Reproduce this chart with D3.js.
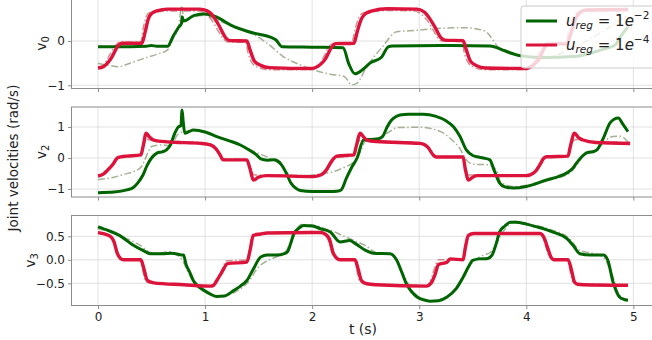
<!DOCTYPE html>
<html>
<head>
<meta charset="utf-8">
<script src="https://cdn.jsdelivr.net/npm/d3@7"></script>
<style>
  body { margin: 0; background: #fff; }
  svg { display: block; font-family: "DejaVu Sans", sans-serif; }
</style>
</head>
<body>
<div id="chart"></div>
<script>
// x ticks shared by all panels
var xTicks = [0, 1, 2, 3, 4, 5];

// ---- v0 ----
var v0GreenT = [0, 0.3, 0.45, 0.5, 0.55, 0.65, 0.7, 0.75, 0.78, 0.785, 0.8, 0.9, 1.0, 1.1, 1.24, 1.45, 1.61, 1.66, 1.72, 2.0, 2.29, 2.34, 2.40, 2.47, 2.54, 2.65, 2.71, 2.75, 3.2, 3.66, 3.8, 3.94, 4.13, 4.45, 4.7, 4.83, 4.88, 4.95];
var v0Green  = [-0.13, -0.13, -0.12, -0.1, -0.12, -0.12, 0.1, 0.3, 0.4, 0.55, 0.45, 0.58, 0.61, 0.55, 0.36, 0.18, 0.09, 0.03, -0.13, -0.14, -0.15, -0.5, -0.74, -0.65, -0.5, -0.36, -0.13, -0.11, -0.1, -0.11, -0.22, -0.33, -0.37, -0.35, -0.2, -0.09, 0.1, 0.32];
var v0RedT = [0, 0.05, 0.12, 0.19, 0.22, 0.41, 0.44, 0.47, 0.5, 0.55, 0.65, 0.95, 1.02, 1.08, 1.13, 1.19, 1.23, 1.39, 1.42, 1.46, 1.52, 1.6, 2.0, 2.06, 2.12, 2.18, 2.22, 2.39, 2.42, 2.46, 2.5, 2.56, 2.7, 2.98, 3.05, 3.1, 3.15, 3.2, 3.24, 3.41, 3.44, 3.48, 3.53, 3.62, 4.0, 4.06, 4.12, 4.17, 4.2, 4.38, 4.42, 4.46, 4.5, 4.56, 4.95];
var v0Red  = [-0.61, -0.58, -0.4, -0.1, -0.05, -0.05, 0.2, 0.5, 0.62, 0.68, 0.72, 0.72, 0.68, 0.55, 0.35, 0.08, 0.01, 0.0, -0.2, -0.45, -0.55, -0.6, -0.62, -0.56, -0.42, -0.15, -0.06, -0.05, 0.2, 0.5, 0.62, 0.68, 0.73, 0.72, 0.65, 0.5, 0.3, 0.08, 0.02, 0.01, -0.2, -0.46, -0.55, -0.61, -0.62, -0.55, -0.4, -0.15, -0.07, -0.06, 0.2, 0.5, 0.64, 0.7, 0.71];
var v0GreenRefT = [0, 0.1, 0.19, 0.3, 0.43, 0.55, 0.65, 0.7, 0.75, 0.785, 0.8, 0.9, 1.0, 1.1, 1.3, 1.45, 1.58, 1.73, 1.9, 2.01, 2.17, 2.3, 2.37, 2.42, 2.51, 2.58, 2.66, 2.79, 2.91, 3.22, 3.45, 3.5, 3.58, 3.63, 3.66, 3.75, 3.94, 4.13, 4.4, 4.7, 4.95];
var v0GreenRef  = [-0.5, -0.55, -0.58, -0.5, -0.39, -0.3, -0.2, 0.05, 0.3, 0.8, 0.45, 0.55, 0.58, 0.48, 0.3, 0.15, -0.05, -0.35, -0.55, -0.65, -0.75, -0.8, -0.99, -0.95, -0.58, -0.35, -0.12, 0.21, 0.23, 0.29, 0.3, 0.29, 0.25, 0.2, 0.12, -0.17, -0.35, -0.4, -0.2, 0.2, 0.6];
var v0RedRefT = [0, 0.05, 0.1, 0.17, 0.2, 0.4, 0.42, 0.45, 0.48, 0.55, 0.7, 0.95, 1.0, 1.06, 1.11, 1.17, 1.21, 1.38, 1.4, 1.44, 1.5, 1.6, 2.0, 2.05, 2.1, 2.16, 2.2, 2.37, 2.4, 2.44, 2.48, 2.55, 2.7, 2.96, 3.02, 3.08, 3.13, 3.18, 3.22, 3.4, 3.42, 3.46, 3.52, 3.62, 4.0, 4.05, 4.1, 4.15, 4.18, 4.36, 4.4, 4.44, 4.48, 4.55, 4.95];
var v0RedRef  = [-0.58, -0.55, -0.35, -0.08, -0.03, -0.03, 0.25, 0.55, 0.64, 0.66, 0.68, 0.68, 0.62, 0.48, 0.28, 0.05, -0.02, -0.03, -0.25, -0.5, -0.6, -0.65, -0.64, -0.58, -0.4, -0.12, -0.05, -0.04, 0.25, 0.55, 0.64, 0.66, 0.69, 0.68, 0.6, 0.45, 0.25, 0.05, 0.0, -0.01, -0.25, -0.5, -0.6, -0.65, -0.64, -0.55, -0.38, -0.12, -0.05, -0.05, 0.25, 0.55, 0.64, 0.67, 0.68];

// ---- v2 ----
var v2GreenT = [0, 0.15, 0.27, 0.33, 0.37, 0.42, 0.46, 0.5, 0.55, 0.6, 0.64, 0.68, 0.71, 0.75, 0.775, 0.785, 0.795, 0.81, 0.85, 0.89, 1.0, 1.11, 1.22, 1.33, 1.42, 1.48, 1.52, 1.58, 1.64, 1.68, 1.72, 1.76, 1.8, 1.85, 1.89, 2.0, 2.17, 2.23, 2.27, 2.32, 2.37, 2.42, 2.48, 2.55, 2.62, 2.66, 2.70, 2.74, 2.78, 2.82, 2.9, 3.04, 3.15, 3.25, 3.32, 3.38, 3.44, 3.5, 3.54, 3.6, 3.66, 3.7, 3.75, 3.8, 3.88, 4.0, 4.19, 4.3, 4.38, 4.43, 4.47, 4.52, 4.56, 4.62, 4.66, 4.72, 4.78, 4.82, 4.86, 4.9, 4.95];
var v2Green  = [-1.12, -1.1, -1.03, -0.95, -0.81, -0.55, -0.23, 0.0, 0.16, 0.2, 0.26, 0.45, 0.74, 1.0, 1.05, 1.55, 1.2, 0.8, 0.85, 0.9, 0.84, 0.69, 0.56, 0.42, 0.24, 0.1, -0.03, -0.07, -0.06, -0.1, -0.25, -0.5, -0.8, -0.98, -1.05, -1.08, -1.08, -1.07, -1.03, -0.65, -0.3, 0.0, 0.58, 0.6, 0.62, 0.7, 1.0, 1.22, 1.33, 1.39, 1.41, 1.41, 1.35, 1.2, 1.01, 0.7, 0.26, 0.08, 0.04, 0.0, -0.06, -0.4, -0.8, -0.93, -0.97, -0.92, -0.71, -0.6, -0.48, -0.35, -0.16, 0.05, 0.16, 0.2, 0.26, 0.64, 1.12, 1.25, 1.29, 1.1, 0.85];
var v2RedT = [0, 0.05, 0.09, 0.14, 0.18, 0.22, 0.27, 0.4, 0.42, 0.45, 0.48, 0.52, 0.65, 0.96, 1.05, 1.1, 1.14, 1.17, 1.39, 1.42, 1.45, 1.5, 1.58, 2.01, 2.08, 2.13, 2.17, 2.2, 2.23, 2.39, 2.41, 2.45, 2.48, 2.51, 2.6, 3.01, 3.08, 3.13, 3.16, 3.41, 3.43, 3.46, 3.5, 3.54, 4.0, 4.08, 4.13, 4.16, 4.19, 4.39, 4.41, 4.45, 4.49, 4.53, 4.65, 4.97];
var v2Red  = [-0.58, -0.52, -0.39, -0.2, 0.0, 0.04, 0.06, 0.1, 0.35, 0.8, 0.68, 0.58, 0.52, 0.47, 0.42, 0.3, 0.1, -0.06, -0.06, -0.35, -0.71, -0.62, -0.57, -0.6, -0.55, -0.4, -0.17, -0.02, 0.06, 0.1, 0.35, 0.8, 0.68, 0.58, 0.53, 0.47, 0.35, 0.1, 0.03, 0.03, -0.35, -0.71, -0.62, -0.57, -0.57, -0.45, -0.2, -0.02, 0.04, 0.06, 0.35, 0.8, 0.65, 0.58, 0.5, 0.47];
var v2GreenRefT = [0, 0.15, 0.25, 0.33, 0.4, 0.43, 0.47, 0.5, 0.6, 0.65, 0.7, 0.74, 0.8, 0.9, 1.1, 1.3, 1.5, 1.6, 1.7, 1.8, 1.9, 2.0, 2.1, 2.2, 2.3, 2.39, 2.45, 2.5, 2.6, 2.7, 2.8, 3.0, 3.2, 3.3, 3.38, 3.44, 3.5, 3.66, 3.72, 3.76, 3.88, 4.2, 4.4, 4.5, 4.56, 4.65, 4.72, 4.81, 4.88, 4.95];
var v2GreenRef  = [-0.7, -0.62, -0.52, -0.44, -0.3, -0.12, 0.2, 0.37, 0.42, 0.4, 0.5, 0.74, 0.85, 0.88, 0.7, 0.45, 0.15, 0.0, -0.2, -0.55, -0.58, -0.55, -0.5, -0.44, -0.3, -0.12, 0.2, 0.55, 0.6, 0.8, 0.98, 0.99, 0.85, 0.6, 0.3, -0.06, -0.2, -0.22, -0.4, -0.76, -0.92, -0.72, -0.5, -0.1, 0.2, 0.25, 0.5, 0.69, 0.7, 0.52];
var v2RedRefT = [0, 0.05, 0.1, 0.15, 0.18, 0.25, 0.4, 0.43, 0.46, 0.52, 0.7, 0.96, 1.05, 1.1, 1.14, 1.17, 1.39, 1.42, 1.46, 1.6, 2.0, 2.08, 2.13, 2.18, 2.22, 2.39, 2.42, 2.46, 2.52, 2.7, 3.0, 3.08, 3.13, 3.16, 3.41, 3.43, 3.47, 3.6, 4.0, 4.08, 4.13, 4.17, 4.39, 4.42, 4.46, 4.52, 4.7, 4.97];
var v2RedRef  = [-0.55, -0.5, -0.36, -0.15, 0.0, 0.05, 0.08, 0.45, 0.6, 0.57, 0.54, 0.5, 0.45, 0.32, 0.12, -0.03, -0.03, -0.3, -0.55, -0.55, -0.57, -0.52, -0.38, -0.12, 0.0, 0.08, 0.45, 0.6, 0.57, 0.54, 0.5, 0.38, 0.12, 0.05, 0.05, -0.3, -0.55, -0.55, -0.55, -0.42, -0.18, 0.0, 0.08, 0.45, 0.6, 0.56, 0.52, 0.5];

// ---- v3 ----
var v3GreenT = [0, 0.1, 0.2, 0.33, 0.42, 0.49, 0.6, 0.68, 0.75, 0.785, 0.8, 0.82, 0.86, 0.89, 0.94, 0.99, 1.05, 1.11, 1.18, 1.27, 1.33, 1.39, 1.45, 1.52, 1.58, 1.67, 1.74, 1.77, 1.8, 1.83, 1.88, 1.92, 2.0, 2.08, 2.17, 2.26, 2.35, 2.4, 2.5, 2.57, 2.73, 2.79, 2.84, 2.88, 2.93, 2.98, 3.04, 3.10, 3.18, 3.26, 3.34, 3.41, 3.46, 3.50, 3.56, 3.64, 3.68, 3.72, 3.75, 3.8, 3.85, 3.9, 4.0, 4.1, 4.25, 4.38, 4.44, 4.5, 4.6, 4.72, 4.76, 4.81, 4.87, 4.92, 4.95];
var v3Green  = [0.70, 0.62, 0.52, 0.31, 0.2, 0.13, 0.13, 0.14, 0.12, 0.1, 0.1, -0.08, -0.28, -0.44, -0.57, -0.65, -0.73, -0.78, -0.77, -0.65, -0.56, -0.44, -0.2, 0.06, 0.1, 0.1, 0.13, 0.17, 0.35, 0.56, 0.68, 0.73, 0.72, 0.66, 0.59, 0.38, 0.41, 0.35, 0.2, 0.14, 0.13, -0.01, -0.28, -0.51, -0.68, -0.79, -0.85, -0.88, -0.87, -0.79, -0.63, -0.37, -0.15, -0.01, 0.02, 0.03, 0.1, 0.35, 0.59, 0.72, 0.8, 0.8, 0.76, 0.7, 0.59, 0.45, 0.3, 0.13, 0.1, 0.1, 0.0, -0.47, -0.79, -0.85, -0.86];
var v3RedT = [0, 0.06, 0.12, 0.15, 0.18, 0.21, 0.24, 0.40, 0.43, 0.46, 0.52, 0.8, 1.05, 1.08, 1.11, 1.16, 1.21, 1.39, 1.42, 1.45, 1.52, 1.58, 2.0, 2.08, 2.12, 2.16, 2.2, 2.26, 2.4, 2.43, 2.46, 2.51, 2.6, 3.07, 3.11, 3.15, 3.18, 3.26, 3.29, 3.41, 3.43, 3.46, 3.51, 4.13, 4.17, 4.2, 4.23, 4.26, 4.39, 4.42, 4.45, 4.48, 4.53, 4.95];
var v3Red  = [0.58, 0.55, 0.49, 0.38, 0.14, 0.03, 0.0, 0.0, -0.2, -0.44, -0.49, -0.53, -0.56, -0.54, -0.44, -0.25, -0.08, -0.05, 0.2, 0.52, 0.55, 0.57, 0.58, 0.58, 0.55, 0.45, 0.13, 0.0, 0.0, -0.2, -0.44, -0.51, -0.53, -0.56, -0.5, -0.3, -0.1, -0.05, 0.02, 0.0, 0.25, 0.52, 0.56, 0.56, 0.45, 0.25, 0.06, 0.0, 0.0, -0.2, -0.47, -0.52, -0.53, -0.54];
var v3GreenRefT = [0, 0.1, 0.2, 0.3, 0.4, 0.5, 0.6, 0.66, 0.72, 0.78, 0.85, 0.9, 1.0, 1.1, 1.2, 1.3, 1.4, 1.5, 1.6, 1.7, 1.76, 1.82, 1.9, 2.0, 2.1, 2.2, 2.3, 2.4, 2.5, 2.6, 2.75, 2.85, 2.95, 3.1, 3.25, 3.4, 3.5, 3.6, 3.66, 3.72, 3.8, 3.9, 4.0, 4.2, 4.4, 4.5, 4.65, 4.72, 4.8, 4.87, 4.95];
var v3GreenRef  = [0.66, 0.6, 0.52, 0.42, 0.3, 0.15, 0.15, 0.18, 0.12, 0.02, -0.3, -0.5, -0.66, -0.78, -0.76, -0.66, -0.48, -0.15, 0.0, 0.1, 0.2, 0.5, 0.75, 0.74, 0.68, 0.6, 0.5, 0.4, 0.3, 0.15, 0.12, -0.3, -0.7, -0.88, -0.8, -0.4, -0.05, 0.1, 0.15, 0.35, 0.65, 0.82, 0.78, 0.66, 0.46, 0.2, 0.12, 0.05, -0.3, -0.75, -0.85];
var v3RedRefT = [0, 0.06, 0.11, 0.14, 0.17, 0.2, 0.23, 0.39, 0.42, 0.45, 0.5, 0.8, 1.04, 1.08, 1.12, 1.16, 1.2, 1.39, 1.42, 1.45, 1.5, 2.0, 2.07, 2.11, 2.15, 2.19, 2.25, 2.4, 2.42, 2.45, 2.5, 3.06, 3.1, 3.14, 3.18, 3.41, 3.43, 3.45, 3.5, 4.12, 4.16, 4.19, 4.22, 4.25, 4.39, 4.41, 4.44, 4.48, 4.95];
var v3RedRef  = [0.6, 0.56, 0.5, 0.4, 0.16, 0.04, 0.01, 0.01, -0.25, -0.47, -0.5, -0.53, -0.55, -0.53, -0.42, -0.2, -0.02, 0.0, 0.25, 0.53, 0.56, 0.6, 0.59, 0.55, 0.42, 0.12, 0.01, 0.01, -0.25, -0.47, -0.52, -0.55, -0.48, -0.2, 0.0, 0.01, 0.3, 0.53, 0.56, 0.56, 0.44, 0.22, 0.05, 0.01, 0.01, -0.25, -0.48, -0.52, -0.53];

var panelLabels = ["0", "2", "3"];
var yTickValues = [[-1, 0], [-1, 0, 1], [-0.5, 0, 0.5]];
var legendLabels = ["\u22122", "\u22124"];

var width = 652, height = 340;
var green = "#006400", red = "#dc143c",
    greenRef = "#9aa889", redRef = "#c06868";

var svg = d3.select("#chart").append("svg")
    .attr("width", width).attr("height", height);

var x = d3.scaleLinear().domain([-0.2475, 5.1975]).range([71.5, 654.5]);

// panel layout: top/bottom pixel, y domain
var panels = [
  { top: -1.5, bottom: 88.5, dom: [-1.072, 0.96], fmt: d3.format(".0f"), labX: 46,
    series: [[v0GreenRefT, v0GreenRef], [v0RedRefT, v0RedRef], [v0GreenT, v0Green], [v0RedT, v0Red]] },
  { top: 107, bottom: 197, dom: [-1.258, 1.645], fmt: d3.format(".0f"), labX: 46,
    series: [[v2GreenRefT, v2GreenRef], [v2RedRefT, v2RedRef], [v2GreenT, v2Green], [v2RedT, v2Red]] },
  { top: 215.5, bottom: 305.5, dom: [-0.972, 0.943], fmt: d3.format(".1f"), labX: 35,
    series: [[v3GreenRefT, v3GreenRef], [v3RedRefT, v3RedRef], [v3GreenT, v3Green], [v3RedT, v3Red]] }
];

var styles = [
  { color: greenRef, w: 1.5, dash: "7,2.5,1.5,2.5", op: 0.9 },
  { color: redRef, w: 1.5, dash: "7,2.5,1.5,2.5", op: 0.75 },
  { color: green, w: 3, dash: null, op: 1 },
  { color: red, w: 3.4, dash: null, op: 1 }
];

function minus(s) { return s.replace("-", "\u2212"); }

panels.forEach(function(p, i) {
  var y = d3.scaleLinear().domain(p.dom).range([p.bottom, p.top]);
  var g = svg.append("g");

  g.append("clipPath").attr("id", "clip" + i)
    .append("rect").attr("x", x.range()[0]).attr("y", p.top)
    .attr("width", x.range()[1] - x.range()[0]).attr("height", p.bottom - p.top);

  // grid
  g.selectAll("line.gx").data(xTicks).enter().append("line")
    .attr("x1", d => x(d)).attr("x2", d => x(d))
    .attr("y1", p.top).attr("y2", p.bottom)
    .attr("stroke", "#d9d9d9").attr("stroke-width", 0.8);
  g.selectAll("line.gy").data(yTickValues[i]).enter().append("line")
    .attr("x1", x.range()[0]).attr("x2", x.range()[1])
    .attr("y1", d => y(d)).attr("y2", d => y(d))
    .attr("stroke", "#d9d9d9").attr("stroke-width", 0.8);

  // curves
  var plot = g.append("g").attr("clip-path", "url(#clip" + i + ")");
  p.series.forEach(function(s, k) {
    var pts = s[0].map((t, j) => [t, s[1][j]]);
    var line = d3.line().x(d => x(d[0])).y(d => y(d[1])).curve(d3.curveMonotoneX);
    var st = styles[k];
    plot.append("path").datum(pts)
      .attr("d", line)
      .attr("fill", "none")
      .attr("stroke", st.color)
      .attr("stroke-width", st.w)
      .attr("stroke-opacity", st.op)
      .attr("stroke-dasharray", st.dash)
      .attr("stroke-linejoin", "round");
  });

  // spines
  var sp = g.append("g").attr("stroke", "#8c8c8c").attr("stroke-width", 1).attr("fill", "none");
  sp.append("rect").attr("x", x.range()[0]).attr("y", p.top)
    .attr("width", x.range()[1] - x.range()[0]).attr("height", p.bottom - p.top);

  // y axis
  var ya = g.append("g").attr("transform", "translate(" + x.range()[0] + ",0)")
    .call(d3.axisLeft(y).tickValues(yTickValues[i]).tickSize(3.5).tickPadding(3)
      .tickFormat(d => minus(p.fmt(d))));
  ya.select(".domain").remove();
  ya.selectAll("line").attr("stroke", "#8c8c8c");
  ya.selectAll("text").attr("font-size", 12).attr("fill", "#222")
    .attr("font-family", "DejaVu Sans");

  // x axis ticks
  var xa = g.append("g").attr("transform", "translate(0," + p.bottom + ")")
    .call(d3.axisBottom(x).tickValues(xTicks).tickSize(3.5).tickPadding(3)
      .tickFormat(i === 2 ? d3.format("d") : ""));
  xa.select(".domain").remove();
  xa.selectAll("line").attr("stroke", "#8c8c8c");
  xa.selectAll("text").attr("font-size", 12).attr("fill", "#222")
    .attr("font-family", "DejaVu Sans");

  // panel label v_k
  var cy = (p.top + p.bottom) / 2;
  var lab = svg.append("text")
    .attr("transform", "translate(" + p.labX + "," + cy + ") rotate(-90)")
    .attr("text-anchor", "middle")
    .attr("font-size", 14).attr("fill", "#222");
  lab.append("tspan").text("v");
  lab.append("tspan").attr("font-size", 10).attr("dy", 3).text(panelLabels[i]);
});

// axis titles
svg.append("text")
  .attr("x", (x.range()[0] + x.range()[1]) / 2).attr("y", 334)
  .attr("text-anchor", "middle").attr("font-size", 14).attr("fill", "#222")
  .text("t (s)");

svg.append("text")
  .attr("transform", "translate(18,158) rotate(-90)")
  .attr("text-anchor", "middle").attr("font-size", 13.5).attr("fill", "#222")
  .text("Joint velocities (rad/s)");

// legend
var lg = svg.append("g");
lg.append("rect").attr("x", 521).attr("y", 6).attr("width", 140).attr("height", 62)
  .attr("rx", 3).attr("fill", "#fff").attr("fill-opacity", 0.8)
  .attr("stroke", "#cccccc").attr("stroke-width", 1);

[green, red].forEach(function(c, k) {
  var ly = 21 + k * 24;
  lg.append("line").attr("x1", 526).attr("x2", 557).attr("y1", ly).attr("y2", ly)
    .attr("stroke", c).attr("stroke-width", 3);
  var t = lg.append("text").attr("x", 566).attr("y", ly + 5)
    .attr("font-size", 15).attr("fill", "#222");
  t.append("tspan").attr("font-style", "italic").text("u");
  t.append("tspan").attr("font-style", "italic").attr("font-size", 10.5).attr("dy", 3).text("reg");
  t.append("tspan").attr("dy", -3).text(" = 1");
  t.append("tspan").attr("font-style", "italic").text("e");
  t.append("tspan").attr("font-size", 10.5).attr("dy", -7).text(legendLabels[k]);
});
</script>
</body>
</html>
